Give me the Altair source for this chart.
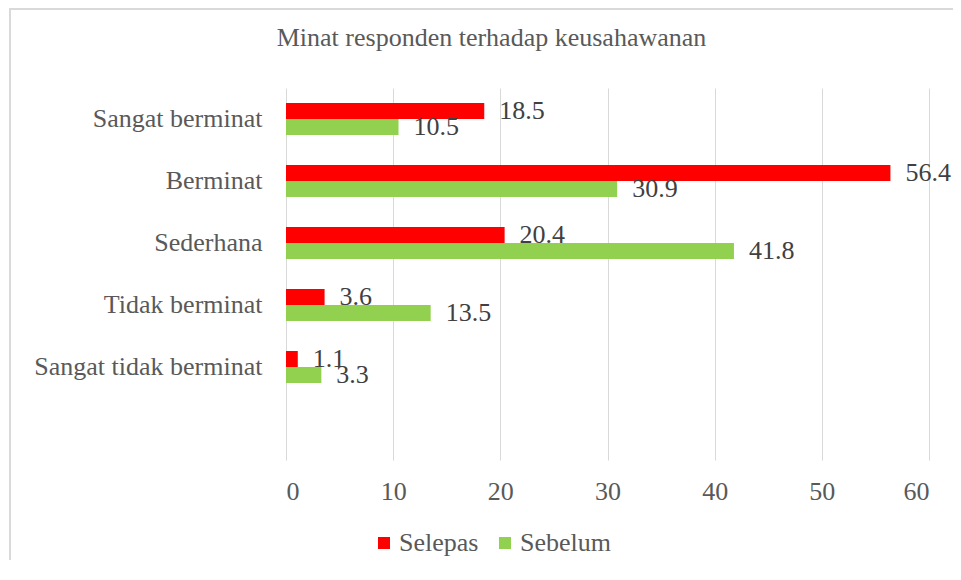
import altair as alt
import pandas as pd

categories = ["Sangat berminat", "Berminat", "Sederhana", "Tidak berminat", "Sangat tidak berminat"]
selepas = [18.5, 56.4, 20.4, 3.6, 1.1]
sebelum = [10.5, 30.9, 41.8, 13.5, 3.3]
series = ["Selepas", "Sebelum"]
colors = ["#FF0000", "#92D050"]
x_ticks = [0, 10, 20, 30, 40, 50, 60]
title_text = "Minat responden terhadap keusahawanan"

rows = []
for c, a, b in zip(categories, selepas, sebelum):
    rows.append({"kategori": c, "siri": "Selepas", "nilai": a})
    rows.append({"kategori": c, "siri": "Sebelum", "nilai": b})
df = pd.DataFrame(rows)

FONT = "Liberation Serif"
y_domain = categories + [" "]

y_enc = alt.Y("kategori:N", sort=y_domain,
              scale=alt.Scale(domain=y_domain, paddingInner=0.484, paddingOuter=0.242),
              axis=alt.Axis(title=None, ticks=False, domain=False, grid=False,
                            labelPadding=24, labelFontSize=26, labelFont=FONT,
                            labelColor="#595959", labelLimit=400))
yoff = alt.YOffset("siri:N", sort=series, scale=alt.Scale(domain=series, paddingInner=0, paddingOuter=0))
x_enc = alt.X("nilai:Q", scale=alt.Scale(domain=[0, 60], nice=False, zero=True),
              axis=alt.Axis(title=None, values=x_ticks, ticks=False, domain=False,
                            grid=True, gridColor="#d9d9d9", gridWidth=1,
                            labelFontSize=26, labelFont=FONT, labelColor="#595959",
                            labelPadding=18, format="d"))

bars = alt.Chart(df).mark_bar().encode(
    x=x_enc, y=y_enc, yOffset=yoff,
    color=alt.Color("siri:N", sort=series,
                    scale=alt.Scale(domain=series, range=colors),
                    legend=alt.Legend(title=None, orient="none", direction="horizontal",
                                      legendX=85, legendY=442, padding=0,
                                      symbolType="square", symbolSize=144,
                                      symbolStrokeWidth=0,
                                      labelFont=FONT, labelFontSize=26,
                                      labelColor="#595959", labelOffset=2,
                                      columnPadding=13)),
)

labels = alt.Chart(df).mark_text(align="left", baseline="middle", dx=15,
                                 font=FONT, fontSize=26, color="#404040").encode(
    x="nilai:Q", y=alt.Y("kategori:N", sort=y_domain), yOffset=alt.YOffset("siri:N", sort=series),
    text=alt.Text("nilai:Q", format=".1f"),
)

frame_left = alt.Chart(df).mark_rule(color="#d9d9d9", strokeWidth=2).encode(
    x=alt.value(-276), y=alt.value(-80), y2=alt.value(472))
frame_top = alt.Chart(df).mark_rule(color="#d9d9d9", strokeWidth=2).encode(
    x=alt.value(-276), x2=alt.value(667), y=alt.value(-79))

chart = alt.layer(frame_left, frame_top, bars, labels).properties(
    width=643, height=372,
    title=alt.TitleParams(title_text, font=FONT, fontSize=26, fontWeight="normal",
                          color="#595959", anchor="middle", dx=-116, offset=32, dy=76,
                          frame="group"),
    autosize=alt.AutoSizeParams(type="none"),
    padding={"left": 278, "top": 80, "right": 24, "bottom": 100},
).configure_view(stroke=None)

chart.save("out.html", embed_options={"renderer": "svg", "actions": False})
